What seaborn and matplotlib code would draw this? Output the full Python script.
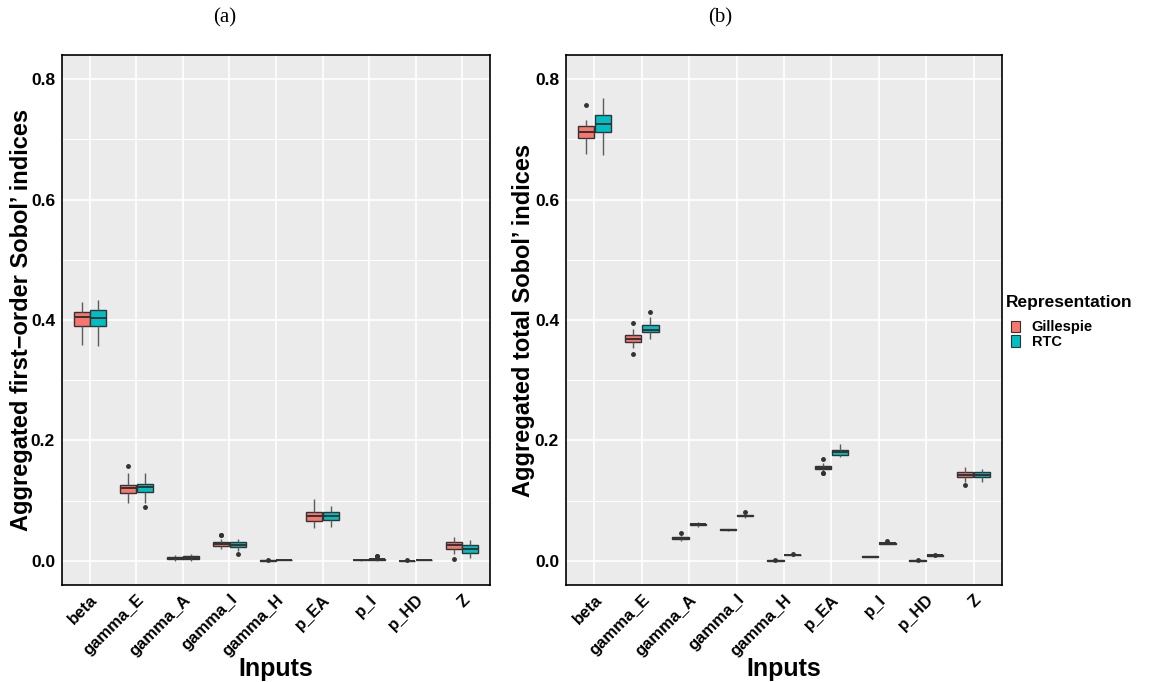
import numpy as np
import pandas as pd
import seaborn as sns
import matplotlib.pyplot as plt
from matplotlib.patches import Patch
from matplotlib.ticker import MultipleLocator

inputs = ['beta', 'gamma_E', 'gamma_A', 'gamma_I', 'gamma_H', 'p_EA', 'p_I', 'p_HD', 'Z']
reps = ['Gillespie', 'RTC']
colors = ['#F8766D', '#00BFC4']

# box stats: (lower whisker, q1, median, q3, upper whisker)
first_gil = [(0.359, 0.3905, 0.405, 0.4128, 0.4306),
             (0.096, 0.1122, 0.1211, 0.1267, 0.146),
             (0.0005, 0.0035, 0.0048, 0.0065, 0.0095),
             (0.019, 0.0244, 0.0278, 0.031, 0.0356),
             (0.0, 0.0003, 0.0005, 0.0008, 0.001),
             (0.054, 0.066, 0.0739, 0.0817, 0.1033),
             (0.0003, 0.0008, 0.001, 0.0013, 0.0018),
             (0.0, 0.0002, 0.0004, 0.0006, 0.0009),
             (0.012, 0.0206, 0.0261, 0.031, 0.04)]
first_gil_out = [[], [0.157], [], [0.0428, 0.0422], [0.002], [], [], [0.0015], [0.004]]

first_rtc = [(0.356, 0.3905, 0.404, 0.416, 0.4333),
             (0.096, 0.1145, 0.122, 0.128, 0.146),
             (0.0005, 0.0035, 0.0055, 0.0078, 0.0117),
             (0.0167, 0.0235, 0.0272, 0.031, 0.0356),
             (0.0008, 0.0013, 0.0016, 0.0019, 0.0025),
             (0.057, 0.0678, 0.075, 0.081, 0.0917),
             (0.0012, 0.002, 0.003, 0.004, 0.0055),
             (0.0008, 0.0012, 0.0015, 0.0018, 0.0022),
             (0.0055, 0.0128, 0.0195, 0.0272, 0.0345)]
first_rtc_out = [[], [0.0895], [], [0.011], [], [], [0.0078, 0.0085, 0.0], [], []]

total_gil = [(0.676, 0.703, 0.7128, 0.7228, 0.7322),
             (0.353, 0.3628, 0.369, 0.3745, 0.3845),
             (0.033, 0.0361, 0.0378, 0.0395, 0.042),
             (0.049, 0.0505, 0.0513, 0.0522, 0.0535),
             (0.0, 0.0003, 0.0005, 0.0007, 0.001),
             (0.1495, 0.1532, 0.155, 0.157, 0.162),
             (0.0062, 0.0068, 0.0072, 0.0076, 0.0082),
             (0.0, 0.0003, 0.0005, 0.0007, 0.001),
             (0.1317, 0.1389, 0.1433, 0.1472, 0.1567)]
total_gil_out = [[0.757], [0.3945, 0.344], [0.0456], [], [0.0015], [0.169, 0.1467, 0.1455], [], [0.0016], [0.1255]]

total_rtc = [(0.6733, 0.7128, 0.7256, 0.7405, 0.7678),
             (0.3678, 0.3795, 0.3828, 0.392, 0.405),
             (0.0567, 0.0592, 0.0606, 0.062, 0.0639),
             (0.0705, 0.074, 0.075, 0.0765, 0.079),
             (0.0085, 0.0092, 0.0095, 0.0099, 0.0104),
             (0.1722, 0.1756, 0.18, 0.1845, 0.1945),
             (0.0275, 0.0285, 0.0295, 0.0305, 0.0318),
             (0.0082, 0.0087, 0.009, 0.0093, 0.0098),
             (0.1306, 0.1389, 0.143, 0.1472, 0.153)]
total_rtc_out = [[], [0.413], [], [0.0815], [0.0112], [], [0.0338], [0.0104], []]


def expand(stats, outliers):
    # sample whose quartiles / whiskers reproduce the read-off box
    lo, q1, med, q3, hi = stats
    return [lo] + [q1] * 20 + [med] * 20 + [q3] * 20 + [hi] + list(outliers)


def make_df(gil, gil_out, rtc, rtc_out):
    rows = []
    for rep, st, ou in [('Gillespie', gil, gil_out), ('RTC', rtc, rtc_out)]:
        for name, s, o in zip(inputs, st, ou):
            for v in expand(s, o):
                rows.append((name, rep, v))
    return pd.DataFrame(rows, columns=['Input', 'Representation', 'value'])


sns.set_theme(style='white')
plt.rcParams['font.family'] = ['Liberation Sans', 'DejaVu Sans']
plt.rcParams['font.weight'] = 'bold'
plt.rcParams['text.color'] = 'black'
plt.rcParams['axes.labelcolor'] = 'black'

W, H = 1149, 682
fig = plt.figure(figsize=(W / 100, H / 100), dpi=100)
ax1 = fig.add_axes([62 / W, (H - 585) / H, 428 / W, 530 / H])
ax2 = fig.add_axes([566 / W, (H - 585) / H, 436 / W, 530 / H])


def panel(ax, df, ylabel, ylab_x):
    sns.boxplot(data=df, x='Input', y='value', hue='Representation', order=inputs,
                hue_order=reps, palette=colors, saturation=1, width=0.72, gap=0.04,
                linewidth=1, linecolor='#333333', fliersize=2.5,
                flierprops=dict(marker='o', markerfacecolor='#333333', markeredgecolor='#333333'),
                whiskerprops=dict(color='#5c5c5c'), capprops=dict(linewidth=0),
                medianprops=dict(linewidth=1.4), legend=False, ax=ax)
    ax.set_facecolor('#EBEBEB')
    ax.set_axisbelow(True)
    ax.set_xlim(-0.6, 8.6)
    ax.set_ylim(-0.04, 0.84)
    ax.yaxis.set_major_locator(MultipleLocator(0.2))
    ax.yaxis.set_minor_locator(MultipleLocator(0.1))
    ax.grid(which='major', color='white', linewidth=1.2)
    ax.grid(which='minor', axis='y', color='white', linewidth=0.7)
    ax.tick_params(which='minor', length=0)
    ax.tick_params(which='major', length=3, width=0.8, color='#333333', pad=2)
    ax.set_yticks([0.0, 0.2, 0.4, 0.6, 0.8])
    ax.set_yticklabels(['0.0', '0.2', '0.4', '0.6', '0.8'], fontsize=12.5, fontweight='bold', color='black')
    ax.set_xticks(range(len(inputs)))
    ax.set_xticklabels(inputs, rotation=45, ha='right', va='top', rotation_mode='anchor',
                       fontsize=12, fontweight='bold', color='black')
    for s in ax.spines.values():
        s.set_visible(True)
        s.set_color('black')
        s.set_linewidth(1.2)
    ax.set_xlabel('Inputs', fontsize=18, fontweight='bold', color='black')
    ax.xaxis.set_label_coords(0.5, -0.136)
    ax.set_ylabel(ylabel, fontsize=17, fontweight='bold', color='black')
    ax.yaxis.set_label_coords(ylab_x, 0.5)


panel(ax1, make_df(first_gil, first_gil_out, first_rtc, first_rtc_out),
      'Aggregated first\u2212order Sobol\u2019 indices', -0.068)
panel(ax2, make_df(total_gil, total_gil_out, total_rtc, total_rtc_out),
      'Aggregated total Sobol\u2019 indices', -0.071)

fig.text(225 / W, 1 - 18 / H, '(a)', ha='center', va='center', fontsize=15,
         family='Liberation Serif', fontweight='normal')
fig.text(720 / W, 1 - 18 / H, '(b)', ha='center', va='center', fontsize=15,
         family='Liberation Serif', fontweight='normal')

fig.text(1006 / W, 1 - 302 / H, 'Representation', ha='left', va='center',
         fontsize=12.5, fontweight='bold')
handles = [Patch(facecolor=c, edgecolor='#333333', linewidth=0.8) for c in colors]
leg = fig.legend(handles, reps, loc='upper left',
                 bbox_to_anchor=(1004 / W, 1 - 313 / H), frameon=False,
                 prop={'size': 10.5, 'weight': 'bold'}, handlelength=0.6, handleheight=0.8,
                 handletextpad=0.8, labelspacing=0.05, borderpad=0)

fig.savefig('out.png', dpi=100)
